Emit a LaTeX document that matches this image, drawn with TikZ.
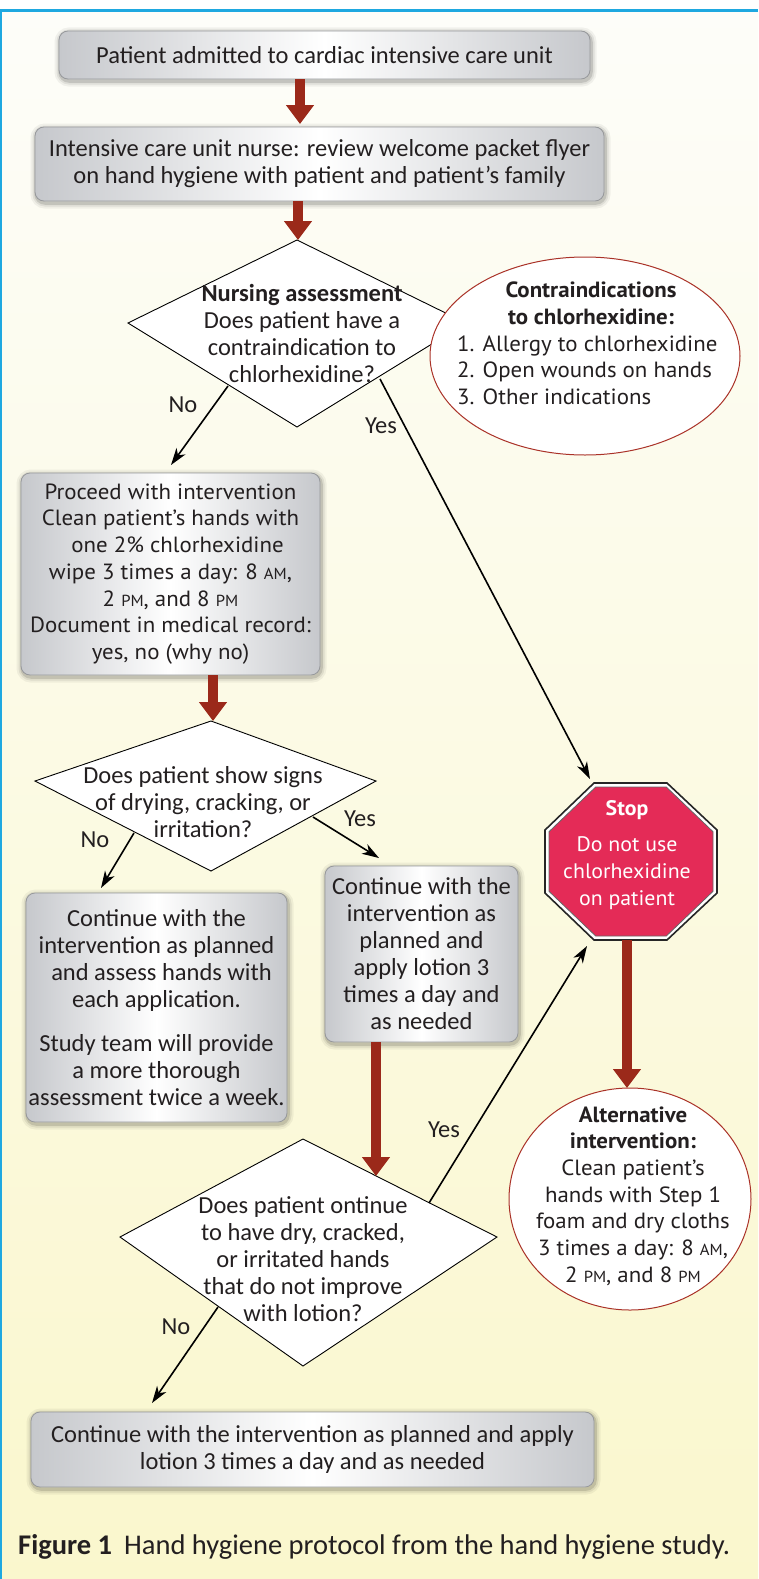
\documentclass[tikz,border=0pt]{standalone}
\usepackage{fontspec}
\setmainfont{Carlito}
\newfontfamily\frut[FakeStretch=1.04]{PT Sans}
\usetikzlibrary{arrows.meta,shapes.geometric,calc}
\definecolor{bluel}{RGB}{30,168,224}
\definecolor{bgtop}{RGB}{253,253,249}
\definecolor{bgbot}{RGB}{250,247,205}
\definecolor{arrred}{RGB}{155,41,26}
\definecolor{boxgray}{RGB}{198,200,204}
\definecolor{boxedge}{RGB}{150,152,155}
\definecolor{ellred}{RGB}{170,50,40}
\definecolor{stopred}{RGB}{228,43,87}
\definecolor{txt}{RGB}{35,31,32}
\newcommand\fsz{\fontsize{24.5}{27}\selectfont}
\newcommand\frsz{\frut\fontsize{22}{26.7}\selectfont}
\newcommand\stsz{\frut\fontsize{21}{27}\selectfont}
\newcommand\capsz{\fontsize{28.5}{32}\selectfont}
\newcommand\ampm[1]{{\fontsize{16}{16}\selectfont #1}}
\begin{document}
\begin{tikzpicture}[x=1pt,y=-1pt,
  softshadow/.style={
    preaction={draw=black, opacity=0.05, line width=11pt, transform canvas={xshift=1pt,yshift=-2pt}},
    preaction={draw=black, opacity=0.07, line width=7pt, transform canvas={xshift=1pt,yshift=-2pt}},
    preaction={draw=black, opacity=0.12, line width=3.5pt, transform canvas={xshift=1pt,yshift=-2pt}}},
  box/.style={rounded corners=9pt, draw=boxedge, line width=0.8pt, left color=boxgray, right color=boxgray, middle color=white, softshadow, align=center, text=txt, inner sep=0pt, font=\fsz},
  dia/.style={draw=black, line width=0.9pt, fill=white},
  dtext/.style={align=center, text=txt, inner sep=0pt, font=\fsz},
  ell/.style={ellipse, draw=ellred, line width=1pt, fill=white, inner sep=0pt},
  redarrow/.style={draw=arrred, line width=10pt, -{Triangle[width=27pt,length=19pt]}},
  blackarrow/.style={draw=black, line width=1.6pt, -{Stealth[length=17pt,width=11pt,inset=5pt]}},
  lbl/.style={text=txt, inner sep=0pt, font=\fsz}]
\useasboundingbox (0,0) rectangle (758,1579);
\shade[top color=bgtop, bottom color=bgbot] (0,10) rectangle (758,1579);
\fill[bluel] (0,9) rectangle (758,12);
\fill[bluel] (0,9) rectangle (2,1579);

% boxes
\node[box, minimum width=531pt, minimum height=48pt] (b1) at (324.5,55) {Patient admitted to cardiac intensive care unit};
\node[box, minimum width=569pt, minimum height=74pt] (b2) at (319.5,164) {Intensive care unit nurse: review welcome packet flyer\\on hand hygiene with patient and patient’s family};

% diamond 1
\coordinate (d1t) at (297,240);
\coordinate (d1l) at (128,323);
\coordinate (d1b) at (297,427);
\coordinate (d1r) at (466,323);
\draw[dia] (d1t) -- (d1r) -- (d1b) -- (d1l) -- cycle;
\node[dtext] (d1) at (302,333) {\textbf{Nursing assessment}\\Does patient have a\\contraindication to\\chlorhexidine?};

% ellipse 1
\node[ell, minimum width=310pt, minimum height=198pt] (e1) at (585,356) {};
\node[align=center, text=txt, inner sep=0pt, font=\frsz\bfseries] (e1h) at (591,303.5) {Contraindications\\to chlorhexidine:};
\node[align=left, anchor=west, text=txt, inner sep=0pt, font=\frsz] (e1i) at (457,370) {1. Allergy to chlorhexidine\\2. Open wounds on hands\\3. Other indications};

% proceed box
\node[box, font=\frsz, minimum width=299pt, minimum height=202pt] (b3) at (170.5,574) {Proceed with intervention\\Clean patient’s hands with\\\hspace*{14pt}one 2\% chlorhexidine\\wipe 3 times a day: 8 \ampm{AM},\\2 \ampm{PM}, and 8 \ampm{PM}\\Document in medical record:\\yes, no (why no)};

% diamond 2
\coordinate (d2t) at (211,721);
\coordinate (d2l) at (35,781);
\coordinate (d2b) at (211,871);
\coordinate (d2r) at (376,781);
\draw[dia] (d2t) -- (d2r) -- (d2b) -- (d2l) -- cycle;
\node[dtext] (d2) at (203,802) {Does patient show signs\\of drying, cracking, or\\irritation?};

% box no2
\node[box, minimum width=261pt, minimum height=229pt] (b4) at (156.5,1007.5) {Continue with the\\intervention as planned\\\hspace*{10pt}and assess hands with\\each application.\\[17pt]Study team will provide\\a more thorough\\assessment twice a week.};
% box yes2
\node[box, minimum width=193pt, minimum height=176pt] (b5) at (421.5,954) {Continue with the\\intervention as\\planned and\\apply lotion 3\\times a day and\\as needed};

% stop sign
\node[minimum width=172pt, minimum height=157pt, inner sep=0pt] (stop) at (631,861.5) {};
\draw[fill=white, draw=black!85, line width=1.6pt] (594,783) -- (667,783) -- (717,830) -- (717,893) -- (667,940) -- (594,940) -- (545,893) -- (545,830) -- cycle;
\draw[fill=stopred, draw=black!60, line width=0.8pt] (595.7,787) -- (666.3,787) -- (713,831.7) -- (713,891.3) -- (666.3,936) -- (595.7,936) -- (549,891.3) -- (549,831.7) -- cycle;
\node[align=center, text=white, inner sep=0pt, font=\stsz] (stopt) at (627,855) {\textbf{Stop}\\[9pt]Do not use\\chlorhexidine\\on patient};

% alternative
\node[ell, minimum width=242pt, minimum height=222pt] (alt) at (630,1199) {};
\node[align=center, text=txt, inner sep=0pt, font=\frsz] (altt) at (633,1196) {\textbf{Alternative}\\\textbf{intervention:}\\Clean patient’s\\hands with Step 1\\foam and dry cloths\\3 times a day: 8 \ampm{AM},\\2 \ampm{PM}, and 8 \ampm{PM}};

% diamond 3
\coordinate (d3t) at (303,1139);
\coordinate (d3l) at (120,1237);
\coordinate (d3b) at (303,1366);
\coordinate (d3r) at (497,1237);
\draw[dia] (d3t) -- (d3r) -- (d3b) -- (d3l) -- cycle;
\node[dtext] (d3) at (303,1259) {Does patient ontinue\\to have dry, cracked,\\or irritated hands\\that do not improve\\with lotion?};

% final box
\node[box, minimum width=563pt, minimum height=75pt] (b6) at (312.5,1449.5) {Continue with the intervention as planned and apply\\lotion 3 times a day and as needed};

% caption
\node[anchor=west, text=txt, inner sep=0pt, font=\capsz] (cap) at (18,1547) {\textbf{Figure 1}\hspace{12pt}Hand hygiene protocol from the hand hygiene study.};

% connector coordinates
\coordinate (r1s) at (300,79);  \coordinate (r1e) at (300,124);
\coordinate (r2s) at (298,201); \coordinate (r2e) at (298,240);
\coordinate (r3s) at (213,675); \coordinate (r3e) at (213,721);
\coordinate (r4s) at (627,940); \coordinate (r4e) at (627,1088);
\coordinate (r5s) at (376,1042); \coordinate (r5e) at (376,1176);
\coordinate (n1s) at (228,386); \coordinate (n1e) at (171,465);
\coordinate (y1s) at (380,379); \coordinate (y1e) at (590,779);
\coordinate (n2s) at (134,833); \coordinate (n2e) at (101,888);
\coordinate (y2s) at (313,817); \coordinate (y2e) at (379,858);
\coordinate (y3s) at (429,1203); \coordinate (y3e) at (587,946);
\coordinate (n3s) at (218,1307); \coordinate (n3e) at (152,1403);

\draw[redarrow] (r1s) -- (r1e);
\draw[redarrow] (r2s) -- (r2e);
\draw[redarrow] (r3s) -- (r3e);
\draw[redarrow] (r4s) -- (r4e);
\draw[redarrow] (r5s) -- (r5e);
\draw[blackarrow] (n1s) -- (n1e);
\draw[blackarrow] (y1s) -- (y1e);
\draw[blackarrow] (n2s) -- (n2e);
\draw[blackarrow] (y2s) -- (y2e);
\draw[blackarrow] (y3s) -- (y3e);
\draw[blackarrow] (n3s) -- (n3e);

\node[lbl] (ln1) at (183,405) {No};
\node[lbl] (ly1) at (381,426) {Yes};
\node[lbl] (ln2) at (95,840) {No};
\node[lbl] (ly2) at (360,819) {Yes};
\node[lbl] (ly3) at (444,1130) {Yes};
\node[lbl] (ln3) at (176,1327) {No};
\end{tikzpicture}
\end{document}
